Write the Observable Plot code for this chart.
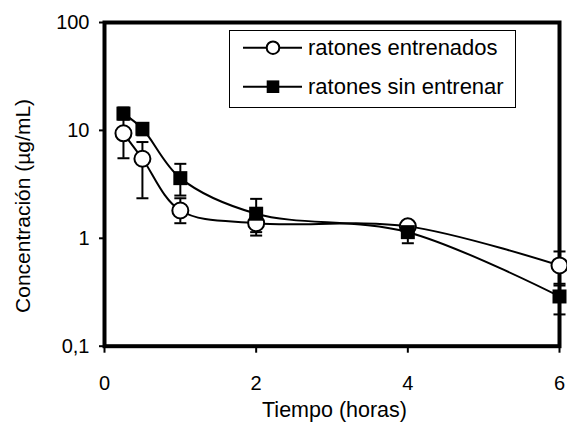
<!DOCTYPE html>
<html>
<head>
<meta charset="utf-8">
<script src="https://cdn.jsdelivr.net/npm/d3@7"></script>
<script src="https://cdn.jsdelivr.net/npm/@observablehq/plot@0.6"></script>
<style>
  html, body { margin: 0; padding: 0; background: #fff; }
  #wrap { position: relative; width: 567px; height: 431px; }
  #legend { position: absolute; left: 229px; top: 30px; width: 287px; height: 78px;
            border: 1.3px solid #000; background: #fff; box-sizing: border-box; }
</style>
</head>
<body>
<div id="wrap"><div id="chart"></div><div id="legend"></div></div>
<script>
// ---- data ----
const hours = [0.25, 0.5, 1, 2, 4, 6];
const seriesNames = ["ratones entrenados", "ratones sin entrenar"];
const trainedMean = [9.4, 5.46, 1.81, 1.38, 1.29, 0.56];
const trainedLow  = [5.52, 2.35, 1.38, 1.14, 1.2, 0.365];
const trainedHigh = [13.3, 7.8, 2.35, 1.62, 1.38, 0.755];
const untrainedMean = [14.3, 10.35, 3.61, 1.69, 1.14, 0.289];
const untrainedLow  = [12.6, 9.0, 2.49, 1.06, 0.90, 0.197];
const untrainedHigh = [16.3, 11.5, 4.9, 2.32, 1.3, 0.379];
const xTicks = [0, 2, 4, 6];
const yTicks = [0.1, 1, 10, 100];
const yTickLabels = ["0,1", "1", "10", "100"];
const xTitle = "Tiempo (horas)";
const yTitle = "Concentración (µg/mL)";

// ---- tables ----
const rows = [];
hours.forEach((t, i) => {
  rows.push({t, v: trainedMean[i], lo: trainedLow[i], hi: trainedHigh[i], s: seriesNames[0]});
});
hours.forEach((t, i) => {
  rows.push({t, v: untrainedMean[i], lo: untrainedLow[i], hi: untrainedHigh[i], s: seriesNames[1]});
});
const caps = rows.flatMap(d => [{t: d.t, y: d.lo}, {t: d.t, y: d.hi}]);

const capSymbol = { draw(ctx, size) { const r = Math.sqrt(size / Math.PI); ctx.moveTo(-r, 0); ctx.lineTo(r, 0); } };
const squareSymbol = { draw(ctx, size) { const r = Math.sqrt(size / Math.PI); ctx.rect(-r, -r, 2 * r, 2 * r); } };

const font = "'Liberation Sans', Arial, sans-serif";

const chart = Plot.plot({
  width: 567, height: 431,
  marginLeft: 104, marginRight: 8, marginTop: 22, marginBottom: 85.3,
  style: {fontFamily: font, fontSize: "20px", background: "white", overflow: "visible", color: "black"},
  x: {domain: [0, 6]},
  y: {type: "log", domain: [0.1, 100]},
  marks: [
    Plot.frame({stroke: "black", strokeWidth: 4}),
    Plot.axisY({ticks: yTicks, tickFormat: d => yTickLabels[yTicks.indexOf(d)], tickSize: 5, tickPadding: 10, strokeWidth: 2, fontSize: 20, label: null}),
    Plot.axisX({ticks: xTicks, tickFormat: d => String(d), tickSize: 7, tickPadding: 23, strokeWidth: 2, fontSize: 20, label: null}),
    Plot.text([xTitle], {frameAnchor: "bottom", textAnchor: "middle", dy: 70.3, dx: 2.5, fontSize: 21.5, fill: "black"}),
    Plot.text([yTitle], {frameAnchor: "left", textAnchor: "middle", rotate: -90, dx: -81.5, dy: 21.6, fontSize: 21, fill: "black"}),
    Plot.line(rows, {x: "t", y: "v", z: "s", curve: "catmull-rom", stroke: "black", strokeWidth: 2}),
    Plot.ruleX(rows, {x: "t", y1: "lo", y2: "hi", stroke: "black", strokeWidth: 2}),
    Plot.dot(caps, {x: "t", y: "y", symbol: capSymbol, r: 6, stroke: "black", strokeWidth: 2}),
    Plot.dot(rows.filter(d => d.s === seriesNames[0]), {x: "t", y: "v", r: 8, fill: "white", stroke: "black", strokeWidth: 2}),
    Plot.dot(rows.filter(d => d.s === seriesNames[1]), {x: "t", y: "v", symbol: squareSymbol, r: 7, fill: "black", stroke: "none"})
  ]
});
document.getElementById("chart").appendChild(chart);

// ---- legend (overlay box) ----
const lg = d3.select("#legend").append("svg").attr("width", 285).attr("height", 76)
  .style("display", "block").style("overflow", "visible");
seriesNames.forEach((name, i) => {
  const cy = i === 0 ? 16.7 : 55.7;
  const g = lg.append("g");
  g.append("line").attr("x1", 13).attr("x2", 72).attr("y1", cy).attr("y2", cy)
    .attr("stroke", "black").attr("stroke-width", 2);
  if (i === 0) {
    g.append("circle").attr("cx", 43).attr("cy", cy).attr("r", 6.3)
      .attr("fill", "white").attr("stroke", "black").attr("stroke-width", 2);
  } else {
    g.append("rect").attr("x", 43 - 6.3).attr("y", cy - 6.3).attr("width", 12.6).attr("height", 12.6)
      .attr("fill", "black");
  }
  g.append("text").attr("x", 78).attr("y", cy).attr("dy", "0.35em")
    .attr("font-family", font).attr("font-size", 22).attr("fill", "black").text(name);
});
</script>
</body>
</html>
